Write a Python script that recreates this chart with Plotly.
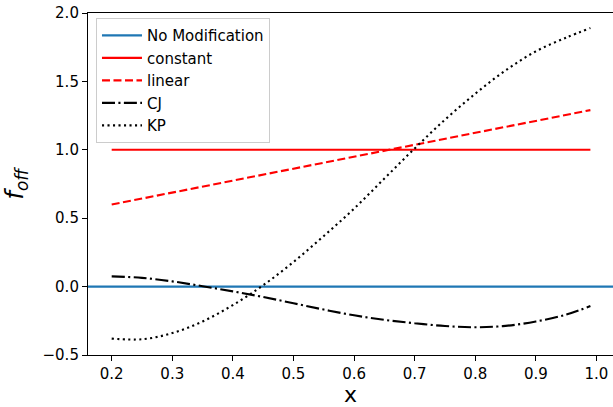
import plotly.graph_objects as go

# ---- data ----
x_line = [0.2, 0.99]
constant_y = [1.0, 1.0]
linear_y = [0.6, 1.29]

x_curve = [0.2, 0.25, 0.3, 0.35, 0.4, 0.45, 0.5, 0.55, 0.6, 0.65, 0.7,
           0.75, 0.8, 0.85, 0.9, 0.95, 0.99]
cj_y = [0.075, 0.064, 0.038, 0.003, -0.035, -0.076, -0.122, -0.168, -0.21,
        -0.243, -0.268, -0.288, -0.297, -0.287, -0.255, -0.205, -0.142]
kp_y = [-0.38, -0.385, -0.34, -0.255, -0.135, 0.01, 0.18, 0.37, 0.57,
        0.79, 1.01, 1.22, 1.41, 1.58, 1.72, 1.82, 1.89]
no_mod_y = [0.0]

x_ticks = [0.2, 0.3, 0.4, 0.5, 0.6, 0.7, 0.8, 0.9, 1.0]
y_ticks = [-0.5, 0.0, 0.5, 1.0, 1.5, 2.0]

FONT = "DejaVu Sans"
LW = 2.1

fig = go.Figure()

fig.add_hline(y=no_mod_y[0], line=dict(color="#1f77b4", width=LW), layer="below")

fig.add_trace(go.Scatter(x=[None], y=[None], mode="lines", name="No Modification",
                         line=dict(color="#1f77b4", width=LW), legendgroup="a"))
fig.add_trace(go.Scatter(x=x_line, y=constant_y, mode="lines", name="constant",
                         line=dict(color="#ff0000", width=LW), legendgroup="b"))
fig.add_trace(go.Scatter(x=x_line, y=linear_y, mode="lines", name="linear",
                         line=dict(color="#ff0000", width=LW, dash="8px,3.5px"),
                         legendgroup="c"))
fig.add_trace(go.Scatter(x=x_curve, y=cj_y, mode="lines", name="CJ", line_shape="spline",
                         line=dict(color="#000000", width=LW,
                                   dash="13px,3.4px,2.1px,3.4px"), legendgroup="d"))
fig.add_trace(go.Scatter(x=x_curve, y=kp_y, mode="lines", name="KP", line_shape="spline",
                         line=dict(color="#000000", width=LW, dash="2.1px,3.4px"),
                         legendgroup="e"))

fig.update_layout(
    width=613, height=407,
    margin=dict(l=88, r=0, t=13, b=52),
    paper_bgcolor="white", plot_bgcolor="white",
    font=dict(family=FONT, size=15, color="black"),
    showlegend=True,
    legend=dict(x=0.0152, y=0.985, xanchor="left", yanchor="top",
                bgcolor="rgba(255,255,255,0.8)", bordercolor="#cccccc", borderwidth=1,
                font=dict(family=FONT, size=15), tracegroupgap=5, itemwidth=40,
                traceorder="normal"),
)
fig.update_xaxes(range=[0.1609, 1.0273], tickvals=x_ticks, tickformat=".1f",
                 showgrid=False, zeroline=False, showline=True, mirror=True,
                 linecolor="black", linewidth=1.1, ticks="outside", ticklen=5,
                 tickwidth=1.1, tickcolor="black",
                 tickfont=dict(family=FONT, size=15),
                 title=dict(text="x", font=dict(size=22, family=FONT), standoff=6))
fig.update_yaxes(range=[-0.5, 2.0], tickvals=y_ticks, tickformat=".1f",
                 showgrid=False, zeroline=False, showline=True, mirror=False,
                 linecolor="black", linewidth=1.1, ticks="outside", ticklen=5,
                 tickwidth=1.1, tickcolor="black",
                 tickfont=dict(family=FONT, size=15),
                 title=dict(text="<i>f</i><sub><i>off</i></sub>",
                            font=dict(size=24, family=FONT), standoff=12))

fig.write_html("out.html")
